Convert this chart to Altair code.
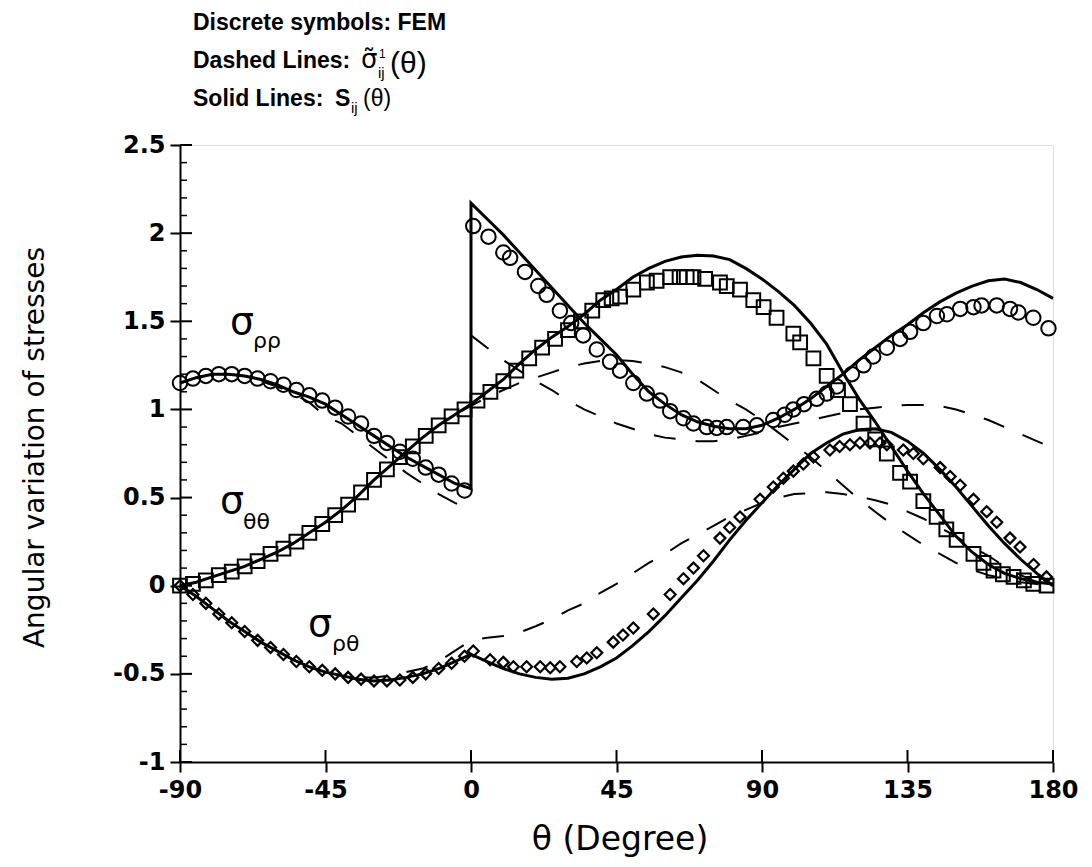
import altair as alt
import pandas as pd

# ---------------- data ----------------
grid_full = list(range(-90, 181, 5))          # 55 points
grid_left = list(range(-90, 1, 5))            # 19 points
grid_right = list(range(0, 181, 5))           # 37 points

# Solid lines S_ij(theta)
rr_solid_left = [1.15, 1.18, 1.2, 1.2, 1.19, 1.17, 1.14, 1.1, 1.07, 1.03, 0.97, 0.91,
                 0.85, 0.79, 0.73, 0.68, 0.63, 0.58, 0.55]
rr_solid_right = [2.17, 2.08, 1.99, 1.89, 1.79, 1.69, 1.59, 1.49, 1.40, 1.31, 1.2, 1.1,
                  1.03, 0.97, 0.93, 0.905, 0.89, 0.89, 0.91, 0.95, 1.0, 1.06, 1.13, 1.2,
                  1.28, 1.35, 1.42, 1.48, 1.55, 1.61, 1.66, 1.70, 1.73, 1.74, 1.72, 1.68, 1.63]
tt_solid = [0, 0.02, 0.05, 0.08, 0.11, 0.15, 0.19, 0.24, 0.3, 0.36, 0.43, 0.51, 0.6, 0.68,
            0.76, 0.84, 0.91, 0.97, 1.03, 1.1, 1.17, 1.26, 1.34, 1.41, 1.47, 1.54, 1.62,
            1.68, 1.75, 1.8, 1.84, 1.865, 1.875, 1.87, 1.85, 1.80, 1.74, 1.67, 1.59, 1.49,
            1.37, 1.21, 1.06, 0.93, 0.79, 0.65, 0.52, 0.4, 0.28, 0.19, 0.12, 0.07, 0.04,
            0.02, 0.01]
rt_solid = [0, -0.06, -0.13, -0.2, -0.26, -0.32, -0.37, -0.42, -0.46, -0.49, -0.51, -0.53,
            -0.54, -0.535, -0.52, -0.5, -0.47, -0.43, -0.39, -0.43, -0.47, -0.5, -0.52,
            -0.53, -0.525, -0.5, -0.46, -0.41, -0.34, -0.26, -0.17, -0.07, 0.03, 0.14,
            0.26, 0.37, 0.47, 0.57, 0.66, 0.75, 0.81, 0.86, 0.885, 0.89, 0.87, 0.82, 0.75,
            0.66, 0.56, 0.45, 0.34, 0.24, 0.15, 0.07, 0.0]

# Dashed lines sigma~^1_ij(theta)
rr_dash_left = [1.15, 1.18, 1.2, 1.2, 1.19, 1.16, 1.13, 1.09, 1.04, 0.96, 0.92, 0.85,
                0.78, 0.71, 0.64, 0.58, 0.52, 0.47, 0.43]
rr_dash_right = [1.42, 1.35, 1.28, 1.22, 1.16, 1.11, 1.05, 1.0, 0.96, 0.92, 0.89, 0.86,
                 0.84, 0.83, 0.82, 0.82, 0.83, 0.85, 0.87, 0.9, 0.92, 0.94, 0.96, 0.98,
                 1.0, 1.01, 1.02, 1.025, 1.025, 1.02, 1.0, 0.97, 0.94, 0.9, 0.86, 0.82, 0.78]
tt_dash = [0, 0.02, 0.05, 0.08, 0.11, 0.15, 0.19, 0.24, 0.3, 0.36, 0.43, 0.51, 0.6, 0.68,
           0.76, 0.84, 0.91, 0.97, 1.02, 1.07, 1.11, 1.15, 1.18, 1.21, 1.24, 1.26, 1.275,
           1.28, 1.275, 1.26, 1.24, 1.21, 1.17, 1.11, 1.05, 1.0, 0.94, 0.87, 0.8, 0.73,
           0.65, 0.57, 0.49, 0.42, 0.35, 0.29, 0.23, 0.18, 0.13, 0.09, 0.06, 0.04, 0.02,
           0.01, 0.0]
rt_dash = [0, -0.06, -0.13, -0.2, -0.26, -0.32, -0.37, -0.42, -0.46, -0.49, -0.51, -0.52,
           -0.52, -0.51, -0.49, -0.47, -0.43, -0.37, -0.31, -0.295, -0.285, -0.265, -0.23,
           -0.19, -0.14, -0.1, -0.04, 0.01, 0.07, 0.13, 0.18, 0.24, 0.29, 0.34, 0.39, 0.43,
           0.47, 0.5, 0.52, 0.525, 0.53, 0.52, 0.505, 0.485, 0.46, 0.42, 0.38, 0.33, 0.28,
           0.22, 0.17, 0.11, 0.06, 0.02, 0.0]

# FEM symbols
fem_rr_x = [-90, -86, -82, -78, -74, -70, -66, -62, -58, -54, -50, -46, -42, -38, -34, -30,
            -26, -22, -18, -14, -10, -6, -2,
            0.7, 5.4, 10, 12.1, 16.7, 20.8, 23.4, 27.5, 31, 34.7, 38.9, 43, 46.1, 50.2,
            54.4, 58.5, 61.6, 65.7, 68.8, 72.9, 76, 79.1, 84.2, 88.4, 93.5, 97, 99.7, 103,
            106.9, 110, 113.1, 117.8, 121.4, 124.4, 128.6, 132.7, 135.8, 139.9, 144.1,
            147.2, 151.3, 155.4, 157.9, 162.6, 166.7, 169.3, 173.9, 178.6]
fem_rr_y = [1.15, 1.175, 1.19, 1.2, 1.2, 1.19, 1.175, 1.16, 1.14, 1.11, 1.08, 1.05, 1.01,
            0.96, 0.92, 0.85, 0.81, 0.76, 0.72, 0.67, 0.63, 0.58, 0.54,
            2.04, 1.98, 1.89, 1.86, 1.78, 1.70, 1.65, 1.56, 1.49, 1.42, 1.34, 1.27, 1.22,
            1.15, 1.09, 1.05, 0.99, 0.95, 0.92, 0.90, 0.895, 0.90, 0.90, 0.91, 0.94, 0.97,
            1.00, 1.03, 1.06, 1.09, 1.13, 1.20, 1.25, 1.30, 1.35, 1.40, 1.44, 1.49, 1.53,
            1.54, 1.57, 1.58, 1.59, 1.59, 1.57, 1.55, 1.52, 1.46]
fem_tt_x = [-90, -86, -82, -78, -74, -70, -66, -62, -58, -54, -50, -46, -42, -38, -34, -30,
            -26, -22, -18, -14, -10, -6, -2, 2, 6, 10, 14, 18, 22, 26, 30, 34, 37.5, 40.9,
            43.5, 46.1, 50.2, 54.4, 57.4, 61.6, 64.5, 66.7, 68.8, 72.4, 77, 79.1, 83.2,
            87.3, 90.5, 94.5, 99.7, 101.8, 105.9, 110, 113.5, 117.2, 121.4, 125, 128.6,
            132.7, 135.8, 139.9, 144, 147, 150.2, 155.4, 158.5, 161.6, 164.5, 167.8, 171,
            173.9, 178]
fem_tt_y = [0, 0.01, 0.03, 0.06, 0.08, 0.11, 0.14, 0.18, 0.21, 0.25, 0.3, 0.35, 0.4, 0.46,
            0.53, 0.6, 0.66, 0.73, 0.79, 0.85, 0.91, 0.96, 1.0, 1.05, 1.1, 1.16, 1.22, 1.29,
            1.35, 1.4, 1.45, 1.5, 1.56, 1.62, 1.63, 1.64, 1.68, 1.72, 1.73, 1.75, 1.75,
            1.75, 1.75, 1.74, 1.72, 1.70, 1.68, 1.62, 1.58, 1.52, 1.43, 1.38, 1.29, 1.19,
            1.11, 1.03, 0.92, 0.83, 0.75, 0.64, 0.59, 0.48, 0.39, 0.32, 0.26, 0.18, 0.13,
            0.085, 0.065, 0.05, 0.03, 0.01, 0.0]
fem_rt_x = [-90, -86, -82, -78, -74, -70, -66, -62, -58, -54, -50, -46, -42, -38, -34, -30,
            -26, -22, -18, -14, -10, -6, -2, 0.7, 5.9, 10, 13.1, 17.2, 21.4, 24.5, 27.5,
            32.7, 35.8, 38.9, 44, 47, 50.2, 56.4, 61.6, 65.7, 68.8, 71.9, 77, 80, 83.2,
            89.4, 93.5, 96.6, 99.7, 102.8, 105.9, 111, 114, 117.2, 120.3, 123.4, 126.5,
            128.6, 133.7, 136.8, 139.9, 145.1, 148.2, 151.3, 155.4, 159.5, 162.6, 166.7,
            169.8, 174, 178]
fem_rt_y = [0, -0.05, -0.1, -0.16, -0.21, -0.26, -0.31, -0.35, -0.39, -0.43, -0.46, -0.48,
            -0.5, -0.52, -0.53, -0.54, -0.54, -0.535, -0.52, -0.5, -0.47, -0.44, -0.4,
            -0.37, -0.42, -0.435, -0.46, -0.46, -0.46, -0.465, -0.46, -0.43, -0.41, -0.38,
            -0.32, -0.28, -0.24, -0.16, -0.05, 0.04, 0.1, 0.17, 0.27, 0.33, 0.39, 0.49,
            0.56, 0.61, 0.65, 0.69, 0.73, 0.77, 0.79, 0.80, 0.81, 0.81, 0.81, 0.80, 0.77,
            0.75, 0.72, 0.67, 0.62, 0.57, 0.49, 0.42, 0.36, 0.27, 0.22, 0.12, 0.05]

# axis ticks
x_major = [-90, -45, 0, 45, 90, 135, 180]
y_major = [-1, -0.5, 0, 0.5, 1, 1.5, 2, 2.5]
y_minor = [round(-1 + 0.1 * i, 1) for i in range(36) if i % 5 != 0]

# curve labels (data units)
lab_sigma_x = [-74.5, -77.6, -50.4]
lab_sigma_y = [1.43, 0.415, -0.284]
lab_sub_text = ["ρρ", "θθ", "ρθ"]
lab_sub_x = [-67.4, -70.5, -43.0]
lab_sub_y = [1.35, 0.32, -0.37]

# ---------------- tables ----------------
rows = []
def add(series, xs_, ys_, kind):
    for i, (xv, yv) in enumerate(zip(xs_, ys_)):
        rows.append({"series": series, "x": xv, "y": yv, "i": i, "kind": kind})

add("rr", grid_left + grid_right, rr_solid_left + rr_solid_right, "solid")
add("tt", grid_full, tt_solid, "solid")
add("rt", grid_full, rt_solid, "solid")
add("rr_l", grid_left, rr_dash_left, "dash")
add("rr_r", grid_right, rr_dash_right, "dash")
add("tt", grid_full, tt_dash, "dash")
add("rt", grid_full, rt_dash, "dash")
lines = pd.DataFrame(rows)
solid = lines[lines.kind == "solid"]
dash = lines[lines.kind == "dash"]

fem_rr = pd.DataFrame({"x": fem_rr_x, "y": fem_rr_y})
fem_tt = pd.DataFrame({"x": fem_tt_x, "y": fem_tt_y})
fem_rt = pd.DataFrame({"x": fem_rt_x, "y": fem_rt_y})

W, H = 873, 617
FONT = "DejaVu Sans"
HFONT = "Liberation Sans"
xs = alt.Scale(domain=[-90, 180], nice=False, zero=False)
ys = alt.Scale(domain=[-1, 2.5], nice=False, zero=False)

ax_x = alt.Axis(values=x_major, title="θ (Degree)", titleFont=FONT, titleFontSize=33,
                titleFontWeight="normal", titleX=W / 2 + 3, titleY=87,
                titleBaseline="alphabetic", titleColor="black",
                labelFont=FONT, labelFontWeight="bold", labelFontSize=24,
                labelColor="black", labelPadding=6, tickSize=10, tickWidth=2,
                tickColor="black", domainColor="black", domainWidth=2, grid=False,
                labelFlush=False, labelOverlap=False, labelExpr="datum.value + ''")
ax_y = alt.Axis(values=y_major, title="Angular variation of stresses", titleFont=FONT,
                titleFontSize=28, titleFontWeight="normal", titleX=-145, titleY=302,
                titleAngle=-90, titleAlign="center", titleBaseline="middle",
                titleColor="black",
                labelFont=FONT, labelFontWeight="bold", labelFontSize=24,
                labelColor="black", labelPadding=5, tickSize=10, tickWidth=2,
                tickColor="black", domainColor="black", domainWidth=2, grid=False,
                labelFlush=False, labelOverlap=False, labelExpr="datum.value + ''")

X = alt.X("x:Q", scale=xs, axis=ax_x)
Y = alt.Y("y:Q", scale=ys, axis=ax_y)

solid_layer = alt.Chart(solid).mark_line(color="black", strokeWidth=3).encode(
    x=X, y=Y, detail="series:N", order="i:Q")
dash_layer = alt.Chart(dash).mark_line(color="black", strokeWidth=2,
                                        strokeDash=[22, 20]).encode(
    x=X, y=Y, detail="series:N", order="i:Q")
circ = alt.Chart(fem_rr).mark_point(shape="circle", filled=False, color="black",
                                    strokeWidth=2, size=210, opacity=1).encode(x=X, y=Y)
sq = alt.Chart(fem_tt).mark_point(shape="square", filled=False, color="black",
                                  strokeWidth=2, size=190, opacity=1).encode(x=X, y=Y)
dia = alt.Chart(fem_rt).mark_point(shape="diamond", filled=False, color="black",
                                   strokeWidth=2.2, size=120, opacity=1).encode(x=X, y=Y)

# inward ticks (same axis definitions so the layers share one axis)
ymin_df = pd.DataFrame({"y": y_minor})
ymaj_df = pd.DataFrame({"y": y_major})
xmaj_df = pd.DataFrame({"x": x_major})
t_ymin = alt.Chart(ymin_df).mark_rule(color="black", strokeWidth=1.5).encode(
    y=Y, x=alt.value(0), x2=alt.value(7))
t_ymaj = alt.Chart(ymaj_df).mark_rule(color="black", strokeWidth=2).encode(
    y=Y, x=alt.value(0), x2=alt.value(12))
t_xmaj = alt.Chart(xmaj_df).mark_rule(color="black", strokeWidth=2).encode(
    x=X, y=alt.value(H), y2=alt.value(H - 12))

# curve labels
lab_main = pd.DataFrame({"x": lab_sigma_x, "y": lab_sigma_y, "t": ["σ"] * 3})
lab_sub = pd.DataFrame({"x": lab_sub_x, "y": lab_sub_y, "t": lab_sub_text})
sig = alt.Chart(lab_main).mark_text(font=FONT, fontSize=38, align="left",
                                    baseline="alphabetic", color="black").encode(
    x=X, y=Y, text="t:N")
sub = alt.Chart(lab_sub).mark_text(font=FONT, fontSize=22, align="left",
                                   baseline="alphabetic", color="black").encode(
    x=X, y=Y, text="t:N")

# header text (pixel positions relative to plot origin)
one = pd.DataFrame({"a": [0]})
def txt(s, x, y, size, weight="normal", font=HFONT):
    return alt.Chart(one).mark_text(text=s, font=font, fontSize=size, fontWeight=weight,
                                    align="left", baseline="alphabetic",
                                    color="black").encode(x=alt.value(x), y=alt.value(y))

header = [
    txt("Discrete symbols: FEM", 13, -115, 23, "bold"),
    txt("Dashed Lines:", 13, -77, 23, "bold"),
    txt("σ\u0303", 181, -77, 26, font=FONT),
    txt("1", 199, -87, 12),
    txt("ij", 198, -67, 15),
    txt("(θ)", 210, -72, 30),
    txt("Solid Lines:", 13, -39, 23, "bold"),
    txt("S", 155, -39, 23, "bold"),
    txt("ij", 171, -32, 15),
    txt("(θ)", 183, -39, 23),
]

chart = alt.layer(
    dash_layer, solid_layer, circ, sq, dia, t_ymin, t_ymaj, t_xmaj, sig, sub, *header
).properties(
    width=W, height=H,
    autosize=alt.AutoSizeParams(type="none"),
    padding={"left": 172, "top": 137, "right": 30, "bottom": 100},
).configure_view(stroke="black", strokeWidth=2).configure(background="white")

chart.save("out.html", embed_options={"renderer": "svg", "actions": False})
